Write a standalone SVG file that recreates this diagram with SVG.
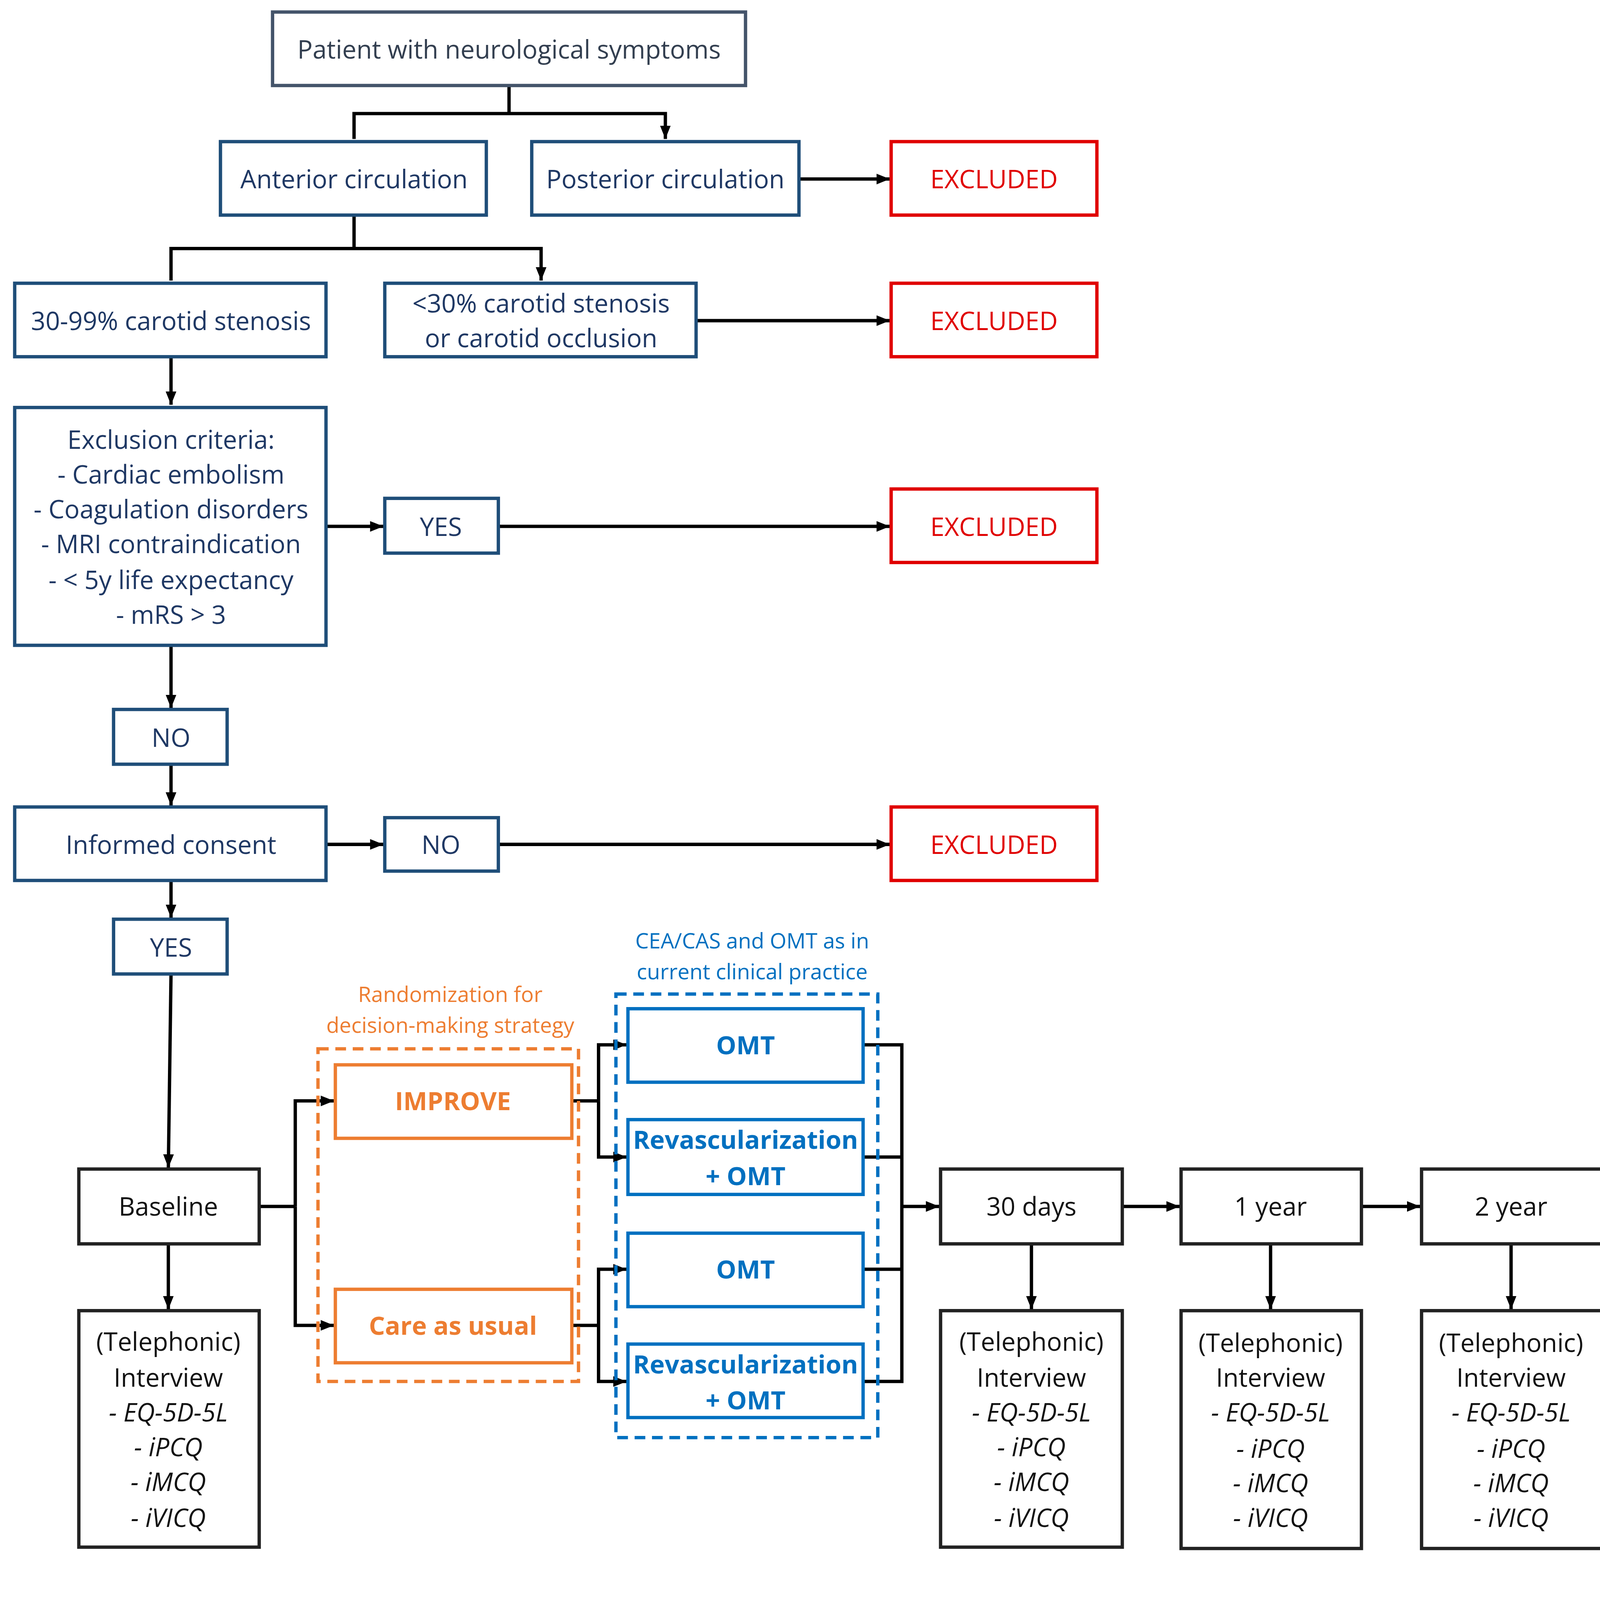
<svg xmlns="http://www.w3.org/2000/svg" width="5363" height="4772" viewBox="0 0 5363 4772">
<style>
text{font-family:"Open Sans","Noto Sans",sans-serif;font-size:19px;text-anchor:middle}
.n rect{fill:#fff;stroke:#1f4e79;stroke-width:2.5}
.n text{fill:#1f3864}
.p rect{stroke:#44546a}
.p text{fill:#333f50}
.x rect{fill:#fff;stroke:#e00000;stroke-width:2.5}
.x text{fill:#e00000}
.k rect{fill:#fff;stroke:#222;stroke-width:2.5}
.k text{fill:#111}
.o rect{fill:#fff;stroke:#ed7d31;stroke-width:2.5}
.o text{fill:#ed7d31;font-weight:bold}
.b rect{fill:#fff;stroke:#0070c0;stroke-width:2.5}
.b text{fill:#0070c0;font-weight:bold}
.i{font-style:italic}
#conn path{fill:none;stroke:#000;stroke-width:2.5}
.a{marker-end:url(#ar)}
</style>
<defs><marker id="ar" viewBox="0 0 10 10" refX="10" refY="5" markerWidth="4" markerHeight="4" orient="auto"><path d="M0,1L10,5L0,9z" fill="#000"/></marker></defs>
<rect width="5363" height="4772" fill="#fff"/>
<g transform="scale(3.4203)">
<g id="conn">
<path d="M381,64V85H265V104M381,85H498V104" class="a"/>
<path d="M598,134H666" class="a"/>
<path d="M265,161V186H128V210M265,186H405V210" class="a"/>
<path d="M521,240H666" class="a"/>
<path d="M128,267V303" class="a"/>
<path d="M244,394H287" class="a"/>
<path d="M373,394H666" class="a"/>
<path d="M128,483V530" class="a"/>
<path d="M128,572V603" class="a"/>
<path d="M244,632H287" class="a"/>
<path d="M373,632H666" class="a"/>
<path d="M128,659V687" class="a"/>
<path d="M128,729L126,874" class="a"/>
<path d="M126,931V980" class="a"/>
<path d="M194,903H221"/>
<path d="M221,903V824H250" class="a"/>
<path d="M221,903V992H250" class="a"/>
<path d="M428,824H448"/>
<path d="M448,824V782H469" class="a"/>
<path d="M448,824V866H469" class="a"/>
<path d="M428,992H448"/>
<path d="M448,992V950H469" class="a"/>
<path d="M448,992V1034H469" class="a"/>
<path d="M646,782H675V1034H646M646,866H675M646,950H675"/>
<path d="M675,903H703" class="a"/>
<path d="M840,903H883" class="a"/>
<path d="M1019,903H1063" class="a"/>
<path d="M1199,903H1245" class="a"/>
<path d="M1382,903H1429" class="a"/>
<path d="M772,931V980" class="a"/>
<path d="M951,931V980" class="a"/>
<path d="M1131,931V980" class="a"/>
<path d="M1314,931V980" class="a"/>
<path d="M1498,931V980" class="a"/>
</g>
<g id="patient" class="n p"><rect x="204" y="9" width="354" height="55"/><text x="381" y="44">Patient with neurological symptoms</text></g>
<g id="anterior" class="n"><rect x="165" y="106" width="199" height="55"/><text x="265" y="141">Anterior circulation</text></g>
<g id="posterior" class="n"><rect x="398" y="106" width="200" height="55"/><text x="498" y="141">Posterior circulation</text></g>
<g id="ex1" class="x"><rect x="667" y="106" width="154" height="55"/><text x="744" y="141">EXCLUDED</text></g>
<g id="sten" class="n"><rect x="11" y="212" width="233" height="55"/><text x="128" y="247">30-99% carotid stenosis</text></g>
<g id="sten30" class="n"><rect x="288" y="212" width="233" height="55"/><text x="405" y="234">&lt;30% carotid stenosis</text><text x="405" y="260">or carotid occlusion</text></g>
<g id="ex2" class="x"><rect x="667" y="212" width="154" height="55"/><text x="744" y="247">EXCLUDED</text></g>
<g id="crit" class="n"><rect x="11" y="305" width="233" height="178"/>
<text x="128" y="336">Exclusion criteria:</text><text x="128" y="362">- Cardiac embolism</text><text x="128" y="388">- Coagulation disorders</text><text x="128" y="414">- MRI contraindication</text><text x="128" y="441">- &lt; 5y life expectancy</text><text x="128" y="467">- mRS &gt; 3</text></g>
<g id="yes1" class="n"><rect x="288" y="373" width="85" height="41"/><text x="330" y="401">YES</text></g>
<g id="ex3" class="x"><rect x="667" y="366" width="154" height="55"/><text x="744" y="401">EXCLUDED</text></g>
<g id="no1" class="n"><rect x="85" y="531" width="85" height="41"/><text x="128" y="559">NO</text></g>
<g id="consent" class="n"><rect x="11" y="604" width="233" height="55"/><text x="128" y="639">Informed consent</text></g>
<g id="no2" class="n"><rect x="288" y="612" width="85" height="40"/><text x="330" y="639">NO</text></g>
<g id="ex4" class="x"><rect x="667" y="604" width="154" height="55"/><text x="744" y="639">EXCLUDED</text></g>
<g id="yes2" class="n"><rect x="85" y="688" width="85" height="41"/><text x="128" y="716">YES</text></g>
<g id="rand"><rect x="238" y="785" width="195" height="249" fill="none" stroke="#ed7d31" stroke-width="2.5" stroke-dasharray="8,5"/>
<text x="337" y="750" fill="#ed7d31" style="font-size:16px">Randomization for</text><text x="337" y="773" fill="#ed7d31" style="font-size:16px">decision-making strategy</text></g>
<g id="cea"><rect x="461" y="744" width="196" height="332" fill="none" stroke="#0070c0" stroke-width="2.5" stroke-dasharray="8,5"/>
<text x="563" y="710" fill="#0070c0" style="font-size:16px">CEA/CAS and OMT as in</text><text x="563" y="733" fill="#0070c0" style="font-size:16px">current clinical practice</text></g>
<g id="improve" class="o"><rect x="251" y="797" width="177" height="55"/><text x="339" y="831">IMPROVE</text></g>
<g id="care" class="o"><rect x="251" y="965" width="177" height="55"/><text x="339" y="999">Care as usual</text></g>
<g id="omt1" class="b"><rect x="470" y="755" width="176" height="55"/><text x="558" y="789">OMT</text></g>
<g id="rev1" class="b"><rect x="470" y="838" width="176" height="56"/><text x="558" y="860">Revascularization</text><text x="558" y="887">+ OMT</text></g>
<g id="omt2" class="b"><rect x="470" y="923" width="176" height="55"/><text x="558" y="957">OMT</text></g>
<g id="rev2" class="b"><rect x="470" y="1006" width="176" height="55"/><text x="558" y="1028">Revascularization</text><text x="558" y="1055">+ OMT</text></g>
<g id="baseline" class="k"><rect x="59" y="875" width="135" height="56"/><text x="126" y="910">Baseline</text></g>
<g id="d30" class="k"><rect x="704" y="875" width="136" height="56"/><text x="772" y="910">30 days</text></g>
<g id="y1" class="k"><rect x="884" y="875" width="135" height="56"/><text x="951" y="910">1 year</text></g>
<g id="y2" class="k"><rect x="1064" y="875" width="135" height="56"/><text x="1131" y="910">2 year</text></g>
<g id="y3" class="k"><rect x="1246" y="875" width="136" height="56"/><text x="1314" y="910">3 year</text></g>
<g id="end" class="k"><rect x="1430" y="875" width="136" height="56"/><text x="1498" y="910">End of study</text></g>
<g id="int0" class="k"><rect x="59" y="981" width="135" height="177"/><text x="126" y="1011">(Telephonic)</text><text x="126" y="1038">Interview</text><text x="126" y="1064" class="i">- EQ-5D-5L</text><text x="126" y="1090" class="i">- iPCQ</text><text x="126" y="1116" class="i">- iMCQ</text><text x="126" y="1143" class="i">- iVICQ</text></g>
<g id="int1" class="k"><rect x="704" y="981" width="136" height="177"/><text x="772" y="1011">(Telephonic)</text><text x="772" y="1038">Interview</text><text x="772" y="1064" class="i">- EQ-5D-5L</text><text x="772" y="1090" class="i">- iPCQ</text><text x="772" y="1116" class="i">- iMCQ</text><text x="772" y="1143" class="i">- iVICQ</text></g>
<g id="int2" class="k"><rect x="884" y="981" width="135" height="178"/><text x="951" y="1012">(Telephonic)</text><text x="951" y="1038">Interview</text><text x="951" y="1064" class="i">- EQ-5D-5L</text><text x="951" y="1091" class="i">- iPCQ</text><text x="951" y="1117" class="i">- iMCQ</text><text x="951" y="1143" class="i">- iVICQ</text></g>
<g id="int3" class="k"><rect x="1064" y="981" width="135" height="178"/><text x="1131" y="1012">(Telephonic)</text><text x="1131" y="1038">Interview</text><text x="1131" y="1064" class="i">- EQ-5D-5L</text><text x="1131" y="1091" class="i">- iPCQ</text><text x="1131" y="1117" class="i">- iMCQ</text><text x="1131" y="1143" class="i">- iVICQ</text></g>
<g id="int4" class="k"><rect x="1246" y="981" width="136" height="177"/><text x="1314" y="1011">(Telephonic)</text><text x="1314" y="1038">Interview</text><text x="1314" y="1064" class="i">- EQ-5D-5L</text><text x="1314" y="1090" class="i">- iPCQ</text><text x="1314" y="1116" class="i">- iMCQ</text><text x="1314" y="1143" class="i">- iVICQ</text></g>
<g id="int5" class="k"><rect x="1430" y="981" width="136" height="177"/><text x="1498" y="1011">(Telephonic)</text><text x="1498" y="1038">Interview</text><text x="1498" y="1064" class="i">- EQ-5D-5L</text><text x="1498" y="1090" class="i">- iPCQ</text><text x="1498" y="1116" class="i">- iMCQ</text><text x="1498" y="1143" class="i">- iVICQ</text></g>
</g>
</svg>
